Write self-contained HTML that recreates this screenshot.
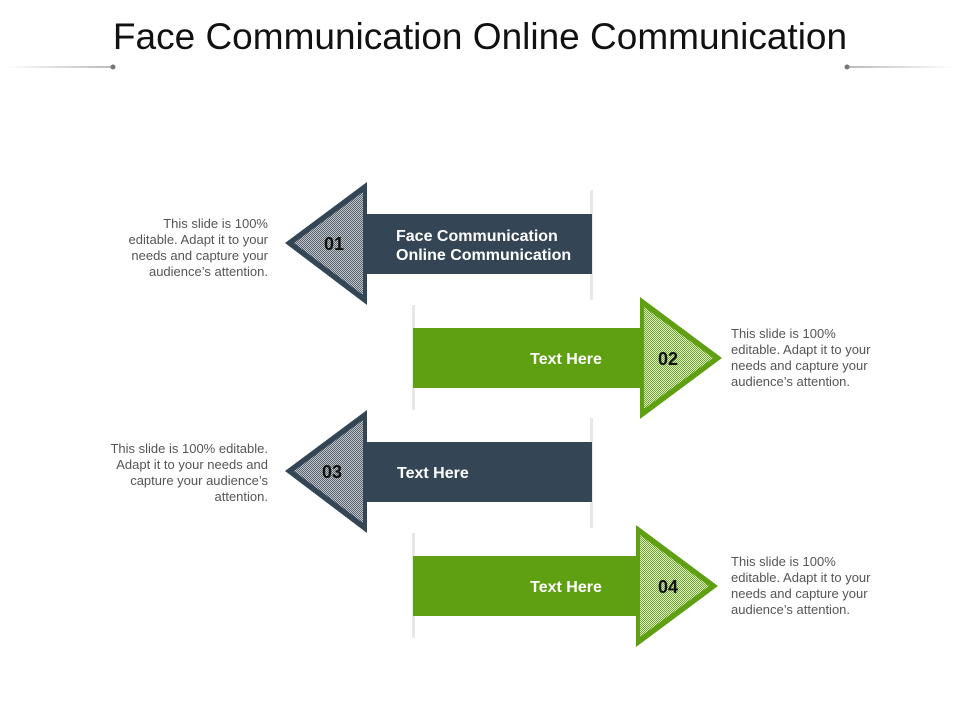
<!DOCTYPE html>
<html><head><meta charset="utf-8"><style>
html,body{margin:0;padding:0;background:#fff;}
body{width:960px;height:720px;overflow:hidden;position:relative;font-family:"Liberation Sans",sans-serif;}
</style></head><body>
<svg width="960" height="720" viewBox="0 0 960 720" xmlns="http://www.w3.org/2000/svg" style="position:absolute;left:0;top:0">
<defs>
<pattern id="hd" width="2" height="2" patternUnits="userSpaceOnUse"><rect width="2" height="2" fill="#c4c8cc"/><rect width="1" height="1" fill="#56616e"/><rect x="1" y="1" width="1" height="1" fill="#56616e"/></pattern>
<pattern id="hg" width="2" height="2" patternUnits="userSpaceOnUse"><rect width="2" height="2" fill="#e4efcf"/><rect width="1" height="1" fill="#6aa624"/><rect x="1" y="1" width="1" height="1" fill="#6aa624"/></pattern>
<linearGradient id="ll" x1="0" x2="1"><stop offset="0" stop-color="#fff"/><stop offset="1" stop-color="#777"/></linearGradient>
<linearGradient id="lr" x1="1" x2="0"><stop offset="0" stop-color="#fff"/><stop offset="1" stop-color="#777"/></linearGradient>
</defs>
<text x="480" y="49" text-anchor="middle" font-size="37" fill="#111">Face Communication Online Communication</text>
<rect x="5" y="66.5" width="108" height="1" fill="url(#ll)"/><circle cx="113" cy="67" r="2.5" fill="#777"/>
<rect x="847" y="66.5" width="108" height="1" fill="url(#lr)"/><circle cx="847" cy="67" r="2.5" fill="#777"/>

<!-- 01 -->
<rect x="590" y="190" width="3" height="110" fill="#e8e8e8"/>
<rect x="360" y="214" width="232" height="60" fill="#344556"/>
<polygon points="367,182 285,243 367,305" fill="#344556"/>
<polygon points="363,192 294,243 363,295" fill="url(#hd)"/>
<text x="334" y="250" text-anchor="middle" font-size="18" font-weight="bold" fill="#111">01</text>
<text x="396" y="241" font-size="16" font-weight="bold" fill="#fff">Face Communication</text>
<text x="396" y="260" font-size="16" font-weight="bold" fill="#fff">Online Communication</text>
<g font-size="13" fill="#555" text-anchor="end">
<text x="268" y="228">This slide is 100%</text><text x="268" y="244">editable. Adapt it to your</text><text x="268" y="260">needs and capture your</text><text x="268" y="276">audience’s attention.</text></g>

<!-- 02 -->
<rect x="412" y="305" width="3" height="105" fill="#e8e8e8"/>
<rect x="413" y="328" width="232" height="60" fill="#5f9f12"/>
<polygon points="640,297 722,358 640,419" fill="#5f9f12"/>
<polygon points="644,307 713,358 644,409" fill="url(#hg)"/>
<text x="668" y="365" text-anchor="middle" font-size="18" font-weight="bold" fill="#111">02</text>
<text x="566" y="364" text-anchor="middle" font-size="16" font-weight="bold" fill="#fff">Text Here</text>
<g font-size="13" fill="#555">
<text x="731" y="338">This slide is 100%</text><text x="731" y="354">editable. Adapt it to your</text><text x="731" y="370">needs and capture your</text><text x="731" y="386">audience’s attention.</text></g>

<!-- 03 -->
<rect x="590" y="418" width="3" height="110" fill="#e8e8e8"/>
<rect x="360" y="442" width="232" height="60" fill="#344556"/>
<polygon points="367,410 285,471 367,533" fill="#344556"/>
<polygon points="363,420 294,471 363,523" fill="url(#hd)"/>
<text x="332" y="478" text-anchor="middle" font-size="18" font-weight="bold" fill="#111">03</text>
<text x="397" y="478" font-size="16" font-weight="bold" fill="#fff">Text Here</text>
<g font-size="13" fill="#555" text-anchor="end">
<text x="268" y="453">This slide is 100% editable.</text><text x="268" y="469">Adapt it to your needs and</text><text x="268" y="485">capture your audience’s</text><text x="268" y="501">attention.</text></g>

<!-- 04 -->
<rect x="412" y="533" width="3" height="105" fill="#e8e8e8"/>
<rect x="413" y="556" width="232" height="60" fill="#5f9f12"/>
<polygon points="636,525 718,586 636,647" fill="#5f9f12"/>
<polygon points="640,535 709,586 640,637" fill="url(#hg)"/>
<text x="668" y="593" text-anchor="middle" font-size="18" font-weight="bold" fill="#111">04</text>
<text x="566" y="592" text-anchor="middle" font-size="16" font-weight="bold" fill="#fff">Text Here</text>
<g font-size="13" fill="#555">
<text x="731" y="566">This slide is 100%</text><text x="731" y="582">editable. Adapt it to your</text><text x="731" y="598">needs and capture your</text><text x="731" y="614">audience’s attention.</text></g>
</svg>
</body></html>
